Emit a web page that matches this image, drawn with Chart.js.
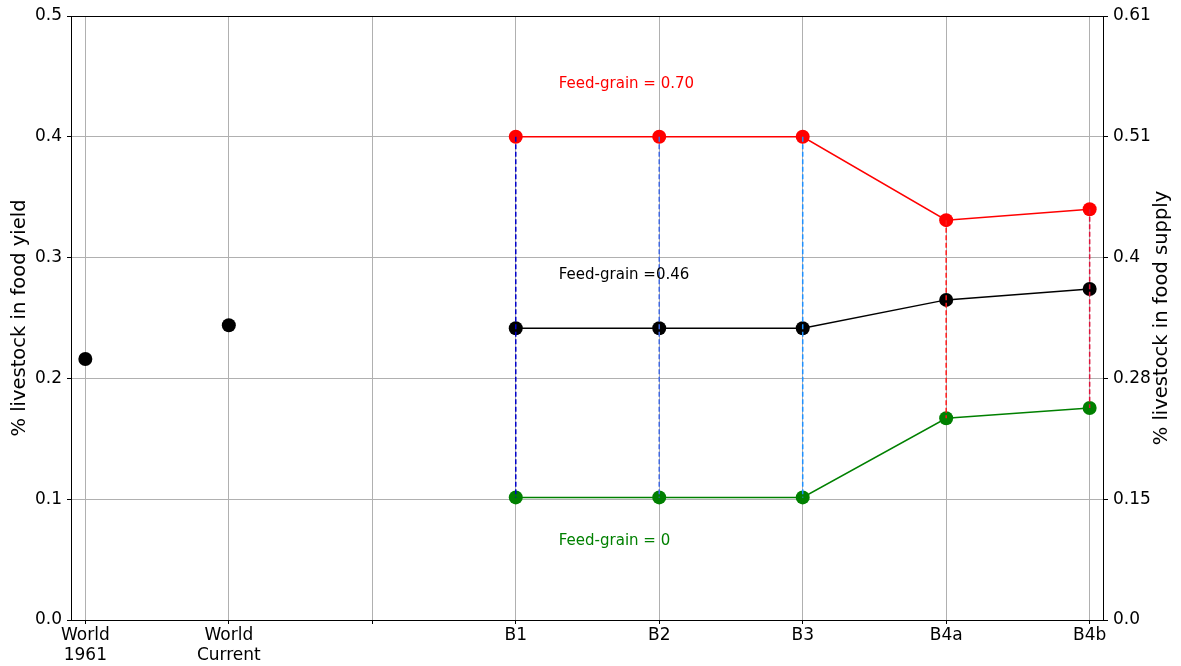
<!DOCTYPE html>
<html>
<head>
<meta charset="utf-8">
<title>Livestock share by scenario</title>
<script src="https://cdn.jsdelivr.net/npm/chart.js@4.4.0/dist/chart.umd.min.js"></script>
<style>
  html, body { margin: 0; padding: 0; background: #fff; }
  canvas { display: block; }
</style>
</head>
<body>
<canvas id="livestockChart" width="1181" height="666"></canvas>
<script>
// ---- values ----
const categories = ['World\n1961', 'World\nCurrent', '', 'B1', 'B2', 'B3', 'B4a', 'B4b'];
const worldCategories = ['World\n1961', 'World\nCurrent'];
const worldValues = [0.216, 0.244];
const scenarioCategories = ['B1', 'B2', 'B3', 'B4a', 'B4b'];
const feedGrainHigh = [0.400, 0.400, 0.400, 0.331, 0.340];     // feed-grain = 0.70
const feedGrainMid = [0.2415, 0.2415, 0.2415, 0.265, 0.274];   // feed-grain = 0.46
const feedGrainZero = [0.1015, 0.1015, 0.1015, 0.167, 0.1755]; // feed-grain = 0
const leftTicks = [0, 0.1, 0.2, 0.3, 0.4, 0.5];
const rightTickLabels = ['0.0', '0.15', '0.28', '0.4', '0.51', '0.61'];
const noteTexts = ['Feed-grain = 0.70', 'Feed-grain =0.46', 'Feed-grain = 0'];

// helpers
const xPos = c => categories.indexOf(c);
const toPoints = (cats, vals) => cats.map((c, i) => ({ x: xPos(c), y: vals[i] }));

const FONT = "'DejaVu Sans', 'Liberation Sans', sans-serif";
const GRID = '#b0b0b0';
const TICK_SIZE = 17;
const TITLE_SIZE = 19.5;

// dashed spans between the feed-grain extremes, one per scenario
const spanColors = ['#0000c8', '#4169e1', '#1e90ff', '#ff1a1a', '#dc143c'];
const spanSets = scenarioCategories.map((c, i) => ({
  data: [{ x: xPos(c), y: feedGrainHigh[i] }, { x: xPos(c), y: feedGrainZero[i] }],
  showLine: true,
  borderColor: spanColors[i],
  borderWidth: 1.5,
  borderDash: [5, 2.5],
  pointRadius: 0,
  pointHoverRadius: 0,
  order: 0
}));

function seriesSet(points, color, line) {
  return {
    data: points,
    showLine: line,
    borderColor: color,
    backgroundColor: color,
    borderWidth: 1.5,
    pointRadius: 7,
    pointHoverRadius: 7,
    pointBorderWidth: 0,
    pointBackgroundColor: color,
    order: 1
  };
}

// ==============================|| PLUGINS ||============================== //
const framePlugin = {
  id: 'frame',
  afterDraw(chart) {
    const { ctx, chartArea: a } = chart;
    ctx.save();
    ctx.strokeStyle = '#000';
    ctx.lineWidth = 1;
    ctx.strokeRect(Math.round(a.left) + 0.5, Math.round(a.top) + 0.5,
      Math.round(a.right - a.left) - 1, Math.round(a.bottom - a.top));

    // right axis title, read bottom-to-top like the left one
    ctx.fillStyle = '#000';
    ctx.font = TITLE_SIZE + 'px ' + FONT;
    ctx.textAlign = 'center';
    ctx.textBaseline = 'middle';
    ctx.translate(1162, (a.top + a.bottom) / 2);
    ctx.rotate(-Math.PI / 2);
    ctx.fillText('% livestock in food supply', 0, 0);
    ctx.restore();
  }
};

const notesPlugin = {
  id: 'notes',
  afterDatasetsDraw(chart, args, opts) {
    const { ctx, scales } = chart;
    ctx.save();
    ctx.font = '15px ' + FONT;
    ctx.textAlign = 'left';
    ctx.textBaseline = 'middle';
    opts.items.forEach(n => {
      ctx.fillStyle = n.color;
      ctx.fillText(n.text, scales.x.getPixelForValue(n.x), scales.y.getPixelForValue(n.y));
    });
    ctx.restore();
  }
};

// ==============================|| CHART ||============================== //
new Chart(document.getElementById('livestockChart'), {
  type: 'scatter',
  data: {
    datasets: [
      ...spanSets,
      seriesSet(toPoints(scenarioCategories, feedGrainHigh), '#ff0000', true),
      seriesSet(toPoints(scenarioCategories, feedGrainMid), '#000000', true),
      seriesSet(toPoints(scenarioCategories, feedGrainZero), '#008000', true),
      seriesSet(toPoints(worldCategories, worldValues), '#000000', false)
    ]
  },
  options: {
    responsive: false,
    animation: false,
    events: [],
    layout: { padding: { top: 16, left: 0, right: 0, bottom: 0 } },
    plugins: {
      legend: { display: false },
      tooltip: { enabled: false },
      notes: {
        items: [
          { text: noteTexts[0], x: 3.3, y: 0.444, color: '#ff0000' },
          { text: noteTexts[1], x: 3.3, y: 0.2855, color: '#000000' },
          { text: noteTexts[2], x: 3.3, y: 0.065, color: '#008000' }
        ]
      }
    },
    scales: {
      x: {
        type: 'linear',
        min: -0.1,
        max: 7.1,
        afterBuildTicks: s => { s.ticks = categories.map((c, i) => ({ value: i })); },
        afterFit: s => { s.height = 46; },
        ticks: {
          autoSkip: false,
          maxRotation: 0,
          padding: 2,
          color: '#000',
          font: { family: FONT, size: TICK_SIZE, lineHeight: 1.15 },
          callback: v => categories[Math.round(v)].split('\n')
        },
        grid: { color: GRID, lineWidth: 1, tickColor: '#000', tickLength: 4 },
        border: { color: '#000' }
      },
      y: {
        position: 'left',
        min: 0,
        max: 0.5,
        afterBuildTicks: s => { s.ticks = leftTicks.map(v => ({ value: v })); },
        afterFit: s => { s.width = 71; },
        ticks: {
          padding: 5,
          color: '#000',
          font: { family: FONT, size: TICK_SIZE },
          callback: v => v.toFixed(1)
        },
        grid: { color: GRID, lineWidth: 1, tickColor: '#000', tickLength: 4 },
        border: { color: '#000' },
        title: {
          display: true,
          text: '% livestock in food yield',
          color: '#000',
          font: { family: FONT, size: TITLE_SIZE },
          padding: { top: 8, bottom: 0 }
        }
      },
      y2: {
        position: 'right',
        min: 0,
        max: 0.5,
        afterBuildTicks: s => { s.ticks = leftTicks.map(v => ({ value: v })); },
        afterFit: s => { s.width = 77; },
        ticks: {
          padding: 5,
          color: '#000',
          font: { family: FONT, size: TICK_SIZE },
          callback: (v, i) => rightTickLabels[i]
        },
        grid: { drawOnChartArea: false, tickColor: '#000', tickLength: 4 },
        border: { display: false }
      }
    }
  },
  plugins: [framePlugin, notesPlugin]
});
</script>
</body>
</html>
